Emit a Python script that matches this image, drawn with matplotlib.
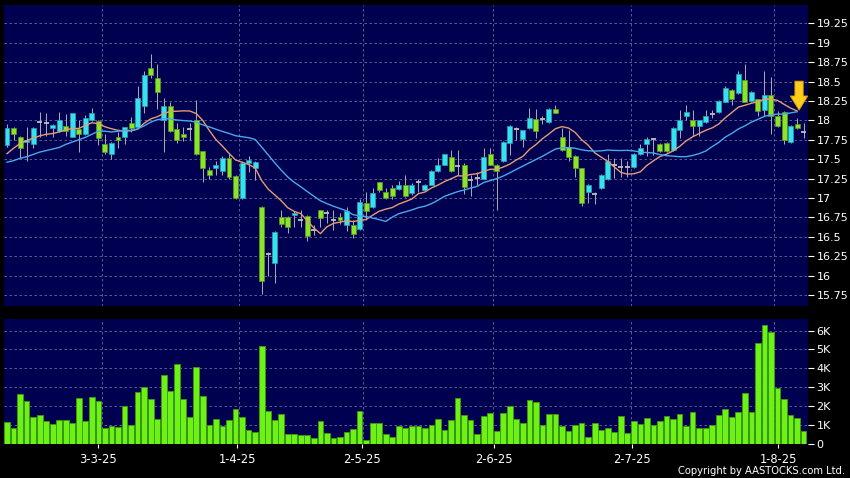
import numpy as np
import pandas as pd
import matplotlib
matplotlib.use("Agg")
import matplotlib.pyplot as plt

# Daily candles (oldest first)
opens = [17.68, 17.90, 17.79, 17.72, 17.70, 17.98, 17.97, 17.90, 17.86, 17.93,
         17.79, 17.89, 17.82, 18.00, 17.99, 17.70, 17.57, 17.79, 17.78, 17.97,
         17.92, 18.19, 18.67, 18.54, 18.01, 18.18, 17.89, 17.83, 17.89, 18.01,
         17.60, 17.36, 17.39, 17.35, 17.52, 17.28, 17.00, 17.45, 17.39, 16.88,
         16.28, 16.16, 16.76, 16.76, 16.78, 16.71, 16.77, 16.58, 16.84, 16.81,
         16.72, 16.76, 16.65, 16.65, 16.60, 16.94, 16.88, 17.20, 17.07, 17.13,
         17.12, 17.17, 17.06, 17.21, 17.10, 17.17, 17.35, 17.43, 17.53, 17.41,
         17.43, 17.23, 17.26, 17.25, 17.56, 17.42, 17.47, 17.71, 17.89, 17.76,
         17.90, 18.02, 18.02, 17.98, 18.15, 17.78, 17.65, 17.54, 17.38, 17.07,
         17.05, 17.13, 17.24, 17.43, 17.40, 17.40, 17.40, 17.56, 17.69, 17.76,
         17.70, 17.71, 17.62, 17.87, 18.05, 18.01, 17.93, 17.98, 18.08, 18.11,
         18.24, 18.39, 18.35, 18.52, 18.25, 18.27, 18.13, 18.33, 18.05, 18.11,
         17.72, 17.95, 17.85]
highs = [17.95, 17.91, 17.80, 17.92, 17.91, 18.11, 18.09, 17.95, 18.11, 18.08,
         18.10, 18.00, 18.07, 18.16, 18.01, 17.83, 17.72, 17.85, 17.92, 18.04,
         18.44, 18.64, 18.85, 18.73, 18.29, 18.23, 17.97, 17.91, 17.96, 18.26,
         17.61, 17.40, 17.48, 17.54, 17.57, 17.29, 17.47, 17.54, 17.47, 16.89,
         16.30, 16.57, 16.85, 16.77, 16.83, 16.84, 16.78, 16.65, 16.85, 16.85,
         16.84, 16.81, 16.88, 16.71, 16.98, 17.07, 17.13, 17.21, 17.13, 17.17,
         17.22, 17.30, 17.19, 17.25, 17.18, 17.36, 17.51, 17.57, 17.62, 17.62,
         17.45, 17.30, 17.34, 17.64, 17.64, 17.44, 17.73, 17.94, 17.92, 17.88,
         18.16, 18.15, 18.06, 18.16, 18.20, 17.90, 17.87, 17.55, 17.39, 17.18,
         17.08, 17.31, 17.57, 17.52, 17.52, 17.47, 17.58, 17.70, 17.79, 17.77,
         17.71, 17.72, 17.91, 18.13, 18.20, 18.13, 18.01, 18.13, 18.13, 18.26,
         18.44, 18.40, 18.63, 18.73, 18.38, 18.28, 18.63, 18.56, 18.12, 18.12,
         17.94, 18.03, 17.96]
lows = [17.66, 17.74, 17.52, 17.48, 17.64, 17.79, 17.80, 17.78, 17.85, 17.80,
        17.78, 17.59, 17.81, 17.99, 17.68, 17.56, 17.50, 17.64, 17.70, 17.85,
        17.91, 18.10, 18.55, 18.15, 17.59, 17.85, 17.71, 17.73, 17.74, 17.55,
        17.21, 17.24, 17.29, 17.29, 17.24, 16.99, 16.99, 17.34, 17.23, 15.76,
        15.99, 15.90, 16.63, 16.55, 16.63, 16.62, 16.45, 16.52, 16.62, 16.68,
        16.58, 16.67, 16.57, 16.48, 16.59, 16.71, 16.87, 17.07, 16.98, 16.99,
        17.10, 17.01, 17.04, 17.08, 17.09, 17.16, 17.34, 17.42, 17.34, 17.30,
        17.05, 17.02, 17.17, 17.24, 17.42, 16.85, 17.46, 17.55, 17.75, 17.66,
        17.89, 17.77, 17.95, 17.97, 18.09, 17.60, 17.47, 17.27, 16.89, 16.94,
        16.92, 17.12, 17.23, 17.26, 17.27, 17.27, 17.39, 17.55, 17.54, 17.55,
        17.59, 17.59, 17.60, 17.77, 18.00, 17.80, 17.80, 17.97, 18.03, 18.10,
        18.23, 18.20, 18.34, 18.23, 18.24, 18.05, 18.05, 17.83, 17.92, 17.70,
        17.71, 17.89, 17.77]
closes = [17.90, 17.82, 17.64, 17.74, 17.90, 17.98, 17.97, 17.94, 18.01, 17.86,
          18.09, 17.82, 18.03, 18.09, 17.77, 17.59, 17.71, 17.74, 17.91, 17.90,
          18.29, 18.59, 18.59, 18.37, 18.18, 17.86, 17.74, 17.79, 17.89, 17.56,
          17.39, 17.30, 17.43, 17.52, 17.27, 17.00, 17.45, 17.49, 17.46, 15.93,
          16.28, 16.56, 16.67, 16.62, 16.80, 16.71, 16.51, 16.58, 16.74, 16.81,
          16.72, 16.72, 16.83, 16.53, 16.95, 16.83, 17.06, 17.10, 17.00, 17.02,
          17.17, 17.03, 17.17, 17.21, 17.17, 17.35, 17.43, 17.56, 17.35, 17.41,
          17.14, 17.23, 17.26, 17.53, 17.43, 17.35, 17.72, 17.93, 17.89, 17.87,
          18.03, 17.86, 18.02, 18.15, 18.10, 17.62, 17.53, 17.38, 16.94, 17.17,
          17.05, 17.30, 17.47, 17.43, 17.40, 17.40, 17.57, 17.64, 17.76, 17.76,
          17.60, 17.60, 17.90, 18.00, 18.11, 17.93, 18.00, 18.05, 18.08, 18.25,
          18.41, 18.27, 18.60, 18.24, 18.37, 18.12, 18.33, 18.05, 17.93, 17.74,
          17.93, 17.90, 17.85]

# Volume in thousands of shares
volume_k = [1.12, 0.85, 2.61, 2.24, 1.39, 1.49, 1.17, 1.03, 1.24, 1.24,
            1.07, 2.42, 1.17, 2.47, 2.24, 0.85, 0.94, 0.87, 1.99, 0.98,
            2.72, 2.98, 2.36, 1.30, 3.66, 2.79, 4.23, 2.36, 1.42, 4.07,
            2.52, 0.98, 1.30, 0.91, 1.24, 1.83, 1.42, 0.71, 0.60, 5.19,
            1.74, 1.24, 1.56, 0.48, 0.48, 0.43, 0.43, 0.28, 1.17, 0.55,
            0.27, 0.34, 0.60, 0.78, 1.74, 0.18, 1.07, 1.07, 0.50, 0.32,
            0.92, 0.80, 0.92, 0.92, 0.85, 1.00, 1.30, 0.70, 1.25, 2.40,
            1.50, 1.25, 0.50, 1.45, 1.60, 0.68, 1.60, 2.00, 1.30, 1.07,
            2.30, 2.20, 0.98, 1.56, 1.55, 0.92, 0.68, 1.00, 1.08, 0.36,
            1.07, 0.71, 0.82, 0.62, 1.44, 0.55, 1.19, 1.03, 1.37, 1.00,
            1.17, 1.44, 1.31, 1.55, 0.92, 1.65, 0.85, 0.85, 1.00, 1.49,
            1.85, 1.40, 1.69, 2.66, 1.65, 5.33, 6.30, 5.93, 2.97, 2.34,
            1.53, 1.33, 0.67]

# Moving average values at the left edge (they use days before the window)
ma10_head = [17.57, 17.64, 17.70, 17.74, 17.77, 17.80, 17.82, 17.83, 17.85]
ma20_head = [17.46, 17.48, 17.51, 17.53, 17.56, 17.59, 17.61, 17.63, 17.65, 17.69,
             17.72, 17.75, 17.78, 17.82, 17.86, 17.86, 17.85, 17.86, 17.87]

# Date labels and where they sit (in candle index units)
date_labels = ["3-3-25", "1-4-25", "2-5-25", "2-6-25", "2-7-25", "1-8-25"]
date_pos = [13.98, 35.27, 54.41, 74.58, 95.76, 118.12]
grid_pos = [14.50, 35.57, 54.56, 74.47, 95.51, 117.50]

price_ticks = [15.75, 16.0, 16.25, 16.5, 16.75, 17.0, 17.25, 17.5, 17.75,
               18.0, 18.25, 18.5, 18.75, 19.0, 19.25]
volume_ticks = [0, 1, 2, 3, 4, 5, 6]

o = np.array(opens)
h = np.array(highs)
l = np.array(lows)
c = np.array(closes)
v = np.array(volume_k)
x = np.arange(len(c))

# Moving averages (10 and 20 day)
ma10 = pd.Series(c).rolling(10).mean().to_numpy()
ma10[:len(ma10_head)] = ma10_head
ma20 = pd.Series(c).rolling(20).mean().to_numpy()
ma20[:len(ma20_head)] = ma20_head

panel = "#000050"
grid_color = "#6a6a9c"

fig = plt.figure(figsize=(8.5, 4.78), dpi=100, facecolor="black")
ax = fig.add_axes([4 / 850, 1 - 306 / 478, 804 / 850, 301 / 478], facecolor=panel)
axv = fig.add_axes([4 / 850, 1 - 443.5 / 478, 804 / 850, 124.5 / 478],
                   facecolor=panel, sharex=ax)

# Grid lines
for a in (ax, axv):
    for g in grid_pos:
        a.axvline(g, color=grid_color, lw=0.6, ls=(0, (3, 3)), zorder=1)
    a.grid(axis="y", color=grid_color, lw=0.6, ls=(0, (3, 3)), zorder=1)
    a.set_axisbelow(True)
    for s in a.spines.values():
        s.set_visible(False)

# Candles
up = c > o
down = c < o
flat = c == o
ax.vlines(x, l, h, color="#a8a8a8", lw=0.75, zorder=2)
ax.bar(x[up], (c - o)[up], bottom=o[up], width=0.76, color="#36e2f0",
       edgecolor="#2a9fb0", lw=0.5, zorder=3)
ax.bar(x[down], (o - c)[down], bottom=c[down], width=0.76, color="#8ae42a",
       edgecolor="#5b9a1e", lw=0.5, zorder=3)
ax.hlines(c[flat], x[flat] - 0.38, x[flat] + 0.38, color="#c0c0c0", lw=1.3, zorder=3)

# Moving average lines stop at the previous close
ax.plot(x[:-1], ma10[:-1], color="#e69c72", lw=1.0, zorder=4)
ax.plot(x[:-1], ma20[:-1], color="#4aa8ea", lw=1.0, zorder=4)

# Yellow arrow pointing at the end of the averages
ax.annotate("", xy=(x[-2] + 0.3, ma10[-2] + 0.01), xytext=(0, 29),
            textcoords="offset pixels",
            arrowprops=dict(arrowstyle="simple,head_length=0.85,head_width=1.05,tail_width=0.5",
                            mutation_scale=12, fc="#ffcc1a", ec="#d89a00", lw=0.6,
                            shrinkA=0, shrinkB=0), zorder=6)

ax.set_xlim(-0.46, 122.67)
ax.set_ylim(15.607, 19.486)
ax.yaxis.tick_right()
ax.set_yticks(price_ticks)
ax.set_yticklabels([f"{t:g}" for t in price_ticks])
ax.tick_params(axis="y", colors="white", length=4, width=0.8, labelsize=8, pad=2)
ax.tick_params(axis="x", bottom=False, labelbottom=False)

# Volume bars
axv.bar(x, v, width=0.88, color="#6df216", edgecolor="#3d9a0c", lw=0.6, zorder=3)
axv.set_ylim(0, 6.62)
axv.yaxis.tick_right()
axv.set_yticks(volume_ticks)
axv.set_yticklabels(["0"] + [f"{t}K" for t in volume_ticks[1:]])
axv.tick_params(axis="y", colors="white", length=4, width=0.8, labelsize=8, pad=2)
axv.set_xticks(date_pos)
axv.set_xticklabels(date_labels)
axv.tick_params(axis="x", colors="white", length=3, width=0.8, labelsize=8.3, pad=4)

fig.text(845 / 850, 1 - 474 / 478, "Copyright by AASTOCKS.com Ltd.", color="white",
         fontsize=7.2, ha="right", va="baseline")

fig.savefig("out.png", dpi=100, facecolor="black")
